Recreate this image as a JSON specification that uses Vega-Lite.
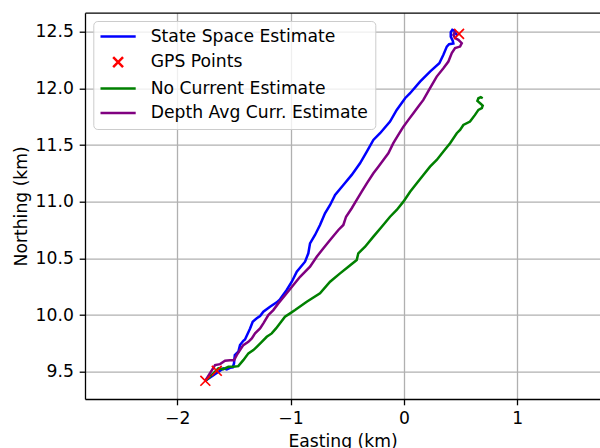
{
  "$schema": "https://vega.github.io/schema/vega-lite/v6.json",
  "width": 515,
  "height": 386.3,
  "autosize": {"type": "none"},
  "padding": {"left": 85, "top": 12.7, "right": 0, "bottom": 49},
  "config": {
    "font": "DejaVu Sans",
    "view": {"stroke": null},
    "axis": {
      "labelFont": "DejaVu Sans", "labelFontSize": 17.2, "labelColor": "black",
      "titleFont": "DejaVu Sans", "titleFontSize": 17.2, "titleFontWeight": "normal", "titleColor": "black",
      "domainColor": "black", "domainWidth": 1.3, "tickColor": "black", "tickWidth": 1.3, "tickSize": 5.8,
      "labelPadding": 5, "gridColor": "#b0b0b0", "gridWidth": 1.3, "titlePadding": 5
    },
    "legend": {
      "fillColor": "rgba(255,255,255,0.8)", "strokeColor": "#cccccc", "cornerRadius": 4, "padding": 7,
      "labelFont": "DejaVu Sans", "labelFontSize": 17.2, "labelColor": "black", "labelLimit": 0,
      "symbolSize": 121, "symbolStrokeWidth": 2.5, "symbolOffset": 9.2, "labelOffset": 24, "rowPadding": 6.5
    }
  },
  "datasets": {
    "lines": [
      {"s":"State Space Estimate","i":1,"x":-1.752,"y":9.420},
      {"s":"State Space Estimate","i":2,"x":-1.593,"y":9.529},
      {"s":"State Space Estimate","i":3,"x":-1.563,"y":9.520},
      {"s":"State Space Estimate","i":4,"x":-1.534,"y":9.534},
      {"s":"State Space Estimate","i":5,"x":-1.510,"y":9.538},
      {"s":"State Space Estimate","i":6,"x":-1.499,"y":9.573},
      {"s":"State Space Estimate","i":7,"x":-1.492,"y":9.647},
      {"s":"State Space Estimate","i":8,"x":-1.461,"y":9.676},
      {"s":"State Space Estimate","i":9,"x":-1.446,"y":9.735},
      {"s":"State Space Estimate","i":10,"x":-1.417,"y":9.773},
      {"s":"State Space Estimate","i":11,"x":-1.402,"y":9.785},
      {"s":"State Space Estimate","i":12,"x":-1.357,"y":9.882},
      {"s":"State Space Estimate","i":13,"x":-1.334,"y":9.941},
      {"s":"State Space Estimate","i":14,"x":-1.298,"y":9.971},
      {"s":"State Space Estimate","i":15,"x":-1.269,"y":9.991},
      {"s":"State Space Estimate","i":16,"x":-1.240,"y":10.029},
      {"s":"State Space Estimate","i":17,"x":-1.181,"y":10.073},
      {"s":"State Space Estimate","i":18,"x":-1.122,"y":10.112},
      {"s":"State Space Estimate","i":19,"x":-1.093,"y":10.139},
      {"s":"State Space Estimate","i":20,"x":-1.034,"y":10.221},
      {"s":"State Space Estimate","i":21,"x":-0.989,"y":10.294},
      {"s":"State Space Estimate","i":22,"x":-0.945,"y":10.383},
      {"s":"State Space Estimate","i":23,"x":-0.872,"y":10.471},
      {"s":"State Space Estimate","i":24,"x":-0.843,"y":10.545},
      {"s":"State Space Estimate","i":25,"x":-0.828,"y":10.633},
      {"s":"State Space Estimate","i":26,"x":-0.784,"y":10.707},
      {"s":"State Space Estimate","i":27,"x":-0.740,"y":10.795},
      {"s":"State Space Estimate","i":28,"x":-0.696,"y":10.898},
      {"s":"State Space Estimate","i":29,"x":-0.651,"y":10.972},
      {"s":"State Space Estimate","i":30,"x":-0.607,"y":11.060},
      {"s":"State Space Estimate","i":31,"x":-0.534,"y":11.148},
      {"s":"State Space Estimate","i":32,"x":-0.460,"y":11.237},
      {"s":"State Space Estimate","i":33,"x":-0.387,"y":11.340},
      {"s":"State Space Estimate","i":34,"x":-0.327,"y":11.443},
      {"s":"State Space Estimate","i":35,"x":-0.269,"y":11.546},
      {"s":"State Space Estimate","i":36,"x":-0.210,"y":11.605},
      {"s":"State Space Estimate","i":37,"x":-0.122,"y":11.708},
      {"s":"State Space Estimate","i":38,"x":-0.063,"y":11.811},
      {"s":"State Space Estimate","i":39,"x":0.011,"y":11.914},
      {"s":"State Space Estimate","i":40,"x":0.055,"y":11.958},
      {"s":"State Space Estimate","i":41,"x":0.143,"y":12.061},
      {"s":"State Space Estimate","i":42,"x":0.231,"y":12.149},
      {"s":"State Space Estimate","i":43,"x":0.313,"y":12.223},
      {"s":"State Space Estimate","i":44,"x":0.349,"y":12.297},
      {"s":"State Space Estimate","i":45,"x":0.379,"y":12.370},
      {"s":"State Space Estimate","i":46,"x":0.399,"y":12.391},
      {"s":"State Space Estimate","i":47,"x":0.437,"y":12.397},
      {"s":"State Space Estimate","i":48,"x":0.432,"y":12.420},
      {"s":"State Space Estimate","i":49,"x":0.414,"y":12.458},
      {"s":"State Space Estimate","i":50,"x":0.414,"y":12.497},
      {"s":"State Space Estimate","i":51,"x":0.428,"y":12.518},
      {"s":"State Space Estimate","i":52,"x":0.446,"y":12.511},
      {"s":"State Space Estimate","i":53,"x":0.455,"y":12.489},
      {"s":"State Space Estimate","i":54,"x":0.472,"y":12.467},
      {"s":"No Current Estimate","i":1,"x":-1.752,"y":9.420},
      {"s":"No Current Estimate","i":2,"x":-1.681,"y":9.485},
      {"s":"No Current Estimate","i":3,"x":-1.637,"y":9.529},
      {"s":"No Current Estimate","i":4,"x":-1.593,"y":9.523},
      {"s":"No Current Estimate","i":5,"x":-1.549,"y":9.543},
      {"s":"No Current Estimate","i":6,"x":-1.505,"y":9.543},
      {"s":"No Current Estimate","i":7,"x":-1.461,"y":9.549},
      {"s":"No Current Estimate","i":8,"x":-1.417,"y":9.602},
      {"s":"No Current Estimate","i":9,"x":-1.372,"y":9.662},
      {"s":"No Current Estimate","i":10,"x":-1.328,"y":9.691},
      {"s":"No Current Estimate","i":11,"x":-1.298,"y":9.720},
      {"s":"No Current Estimate","i":12,"x":-1.254,"y":9.764},
      {"s":"No Current Estimate","i":13,"x":-1.210,"y":9.808},
      {"s":"No Current Estimate","i":14,"x":-1.166,"y":9.838},
      {"s":"No Current Estimate","i":15,"x":-1.128,"y":9.882},
      {"s":"No Current Estimate","i":16,"x":-1.093,"y":9.927},
      {"s":"No Current Estimate","i":17,"x":-1.049,"y":9.985},
      {"s":"No Current Estimate","i":18,"x":-1.004,"y":10.015},
      {"s":"No Current Estimate","i":19,"x":-0.960,"y":10.044},
      {"s":"No Current Estimate","i":20,"x":-0.857,"y":10.117},
      {"s":"No Current Estimate","i":21,"x":-0.740,"y":10.192},
      {"s":"No Current Estimate","i":22,"x":-0.651,"y":10.294},
      {"s":"No Current Estimate","i":23,"x":-0.563,"y":10.368},
      {"s":"No Current Estimate","i":24,"x":-0.490,"y":10.427},
      {"s":"No Current Estimate","i":25,"x":-0.416,"y":10.486},
      {"s":"No Current Estimate","i":26,"x":-0.402,"y":10.545},
      {"s":"No Current Estimate","i":27,"x":-0.342,"y":10.603},
      {"s":"No Current Estimate","i":28,"x":-0.269,"y":10.692},
      {"s":"No Current Estimate","i":29,"x":-0.195,"y":10.780},
      {"s":"No Current Estimate","i":30,"x":-0.122,"y":10.868},
      {"s":"No Current Estimate","i":31,"x":-0.063,"y":10.928},
      {"s":"No Current Estimate","i":32,"x":-0.004,"y":11.001},
      {"s":"No Current Estimate","i":33,"x":0.055,"y":11.089},
      {"s":"No Current Estimate","i":34,"x":0.114,"y":11.163},
      {"s":"No Current Estimate","i":35,"x":0.172,"y":11.237},
      {"s":"No Current Estimate","i":36,"x":0.231,"y":11.310},
      {"s":"No Current Estimate","i":37,"x":0.290,"y":11.369},
      {"s":"No Current Estimate","i":38,"x":0.349,"y":11.443},
      {"s":"No Current Estimate","i":39,"x":0.408,"y":11.517},
      {"s":"No Current Estimate","i":40,"x":0.467,"y":11.605},
      {"s":"No Current Estimate","i":41,"x":0.496,"y":11.634},
      {"s":"No Current Estimate","i":42,"x":0.525,"y":11.678},
      {"s":"No Current Estimate","i":43,"x":0.584,"y":11.708},
      {"s":"No Current Estimate","i":44,"x":0.628,"y":11.767},
      {"s":"No Current Estimate","i":45,"x":0.658,"y":11.811},
      {"s":"No Current Estimate","i":46,"x":0.688,"y":11.826},
      {"s":"No Current Estimate","i":47,"x":0.696,"y":11.849},
      {"s":"No Current Estimate","i":48,"x":0.673,"y":11.870},
      {"s":"No Current Estimate","i":49,"x":0.649,"y":11.890},
      {"s":"No Current Estimate","i":50,"x":0.658,"y":11.914},
      {"s":"No Current Estimate","i":51,"x":0.679,"y":11.923},
      {"s":"No Current Estimate","i":52,"x":0.696,"y":11.914},
      {"s":"Depth Avg Curr. Estimate","i":1,"x":-1.752,"y":9.420},
      {"s":"Depth Avg Curr. Estimate","i":2,"x":-1.666,"y":9.558},
      {"s":"Depth Avg Curr. Estimate","i":3,"x":-1.622,"y":9.567},
      {"s":"Depth Avg Curr. Estimate","i":4,"x":-1.578,"y":9.596},
      {"s":"Depth Avg Curr. Estimate","i":5,"x":-1.534,"y":9.602},
      {"s":"Depth Avg Curr. Estimate","i":6,"x":-1.499,"y":9.602},
      {"s":"Depth Avg Curr. Estimate","i":7,"x":-1.475,"y":9.647},
      {"s":"Depth Avg Curr. Estimate","i":8,"x":-1.446,"y":9.691},
      {"s":"Depth Avg Curr. Estimate","i":9,"x":-1.417,"y":9.735},
      {"s":"Depth Avg Curr. Estimate","i":10,"x":-1.372,"y":9.764},
      {"s":"Depth Avg Curr. Estimate","i":11,"x":-1.342,"y":9.794},
      {"s":"Depth Avg Curr. Estimate","i":12,"x":-1.313,"y":9.838},
      {"s":"Depth Avg Curr. Estimate","i":13,"x":-1.269,"y":9.882},
      {"s":"Depth Avg Curr. Estimate","i":14,"x":-1.240,"y":9.927},
      {"s":"Depth Avg Curr. Estimate","i":15,"x":-1.196,"y":10.000},
      {"s":"Depth Avg Curr. Estimate","i":16,"x":-1.152,"y":10.044},
      {"s":"Depth Avg Curr. Estimate","i":17,"x":-1.108,"y":10.103},
      {"s":"Depth Avg Curr. Estimate","i":18,"x":-1.034,"y":10.192},
      {"s":"Depth Avg Curr. Estimate","i":19,"x":-0.975,"y":10.265},
      {"s":"Depth Avg Curr. Estimate","i":20,"x":-0.916,"y":10.338},
      {"s":"Depth Avg Curr. Estimate","i":21,"x":-0.828,"y":10.427},
      {"s":"Depth Avg Curr. Estimate","i":22,"x":-0.769,"y":10.515},
      {"s":"Depth Avg Curr. Estimate","i":23,"x":-0.710,"y":10.589},
      {"s":"Depth Avg Curr. Estimate","i":24,"x":-0.651,"y":10.663},
      {"s":"Depth Avg Curr. Estimate","i":25,"x":-0.578,"y":10.751},
      {"s":"Depth Avg Curr. Estimate","i":26,"x":-0.534,"y":10.795},
      {"s":"Depth Avg Curr. Estimate","i":27,"x":-0.510,"y":10.868},
      {"s":"Depth Avg Curr. Estimate","i":28,"x":-0.460,"y":10.943},
      {"s":"Depth Avg Curr. Estimate","i":29,"x":-0.416,"y":11.016},
      {"s":"Depth Avg Curr. Estimate","i":30,"x":-0.372,"y":11.089},
      {"s":"Depth Avg Curr. Estimate","i":31,"x":-0.327,"y":11.163},
      {"s":"Depth Avg Curr. Estimate","i":32,"x":-0.269,"y":11.252},
      {"s":"Depth Avg Curr. Estimate","i":33,"x":-0.225,"y":11.310},
      {"s":"Depth Avg Curr. Estimate","i":34,"x":-0.181,"y":11.369},
      {"s":"Depth Avg Curr. Estimate","i":35,"x":-0.137,"y":11.428},
      {"s":"Depth Avg Curr. Estimate","i":36,"x":-0.093,"y":11.517},
      {"s":"Depth Avg Curr. Estimate","i":37,"x":-0.049,"y":11.590},
      {"s":"Depth Avg Curr. Estimate","i":38,"x":-0.004,"y":11.663},
      {"s":"Depth Avg Curr. Estimate","i":39,"x":0.040,"y":11.723},
      {"s":"Depth Avg Curr. Estimate","i":40,"x":0.084,"y":11.782},
      {"s":"Depth Avg Curr. Estimate","i":41,"x":0.128,"y":11.840},
      {"s":"Depth Avg Curr. Estimate","i":42,"x":0.172,"y":11.899},
      {"s":"Depth Avg Curr. Estimate","i":43,"x":0.231,"y":12.003},
      {"s":"Depth Avg Curr. Estimate","i":44,"x":0.290,"y":12.105},
      {"s":"Depth Avg Curr. Estimate","i":45,"x":0.349,"y":12.179},
      {"s":"Depth Avg Curr. Estimate","i":46,"x":0.393,"y":12.238},
      {"s":"Depth Avg Curr. Estimate","i":47,"x":0.423,"y":12.312},
      {"s":"Depth Avg Curr. Estimate","i":48,"x":0.452,"y":12.356},
      {"s":"Depth Avg Curr. Estimate","i":49,"x":0.496,"y":12.370},
      {"s":"Depth Avg Curr. Estimate","i":50,"x":0.511,"y":12.400},
      {"s":"Depth Avg Curr. Estimate","i":51,"x":0.481,"y":12.429},
      {"s":"Depth Avg Curr. Estimate","i":52,"x":0.452,"y":12.444},
      {"s":"Depth Avg Curr. Estimate","i":53,"x":0.437,"y":12.473},
      {"s":"Depth Avg Curr. Estimate","i":54,"x":0.452,"y":12.503}
    ],
    "gps": [
      {"s":"GPS Points","x":-1.752,"y":9.420},
      {"s":"GPS Points","x":-1.651,"y":9.508},
      {"s":"GPS Points","x":0.487,"y":12.482}
    ]
  },
  "layer": [
    {
      "data": {"name": "lines"},
      "mark": {"type": "line", "strokeWidth": 2.5},
      "encoding": {
        "x": {"field": "x", "type": "quantitative",
              "scale": {"domain": [-2.814, 1.731], "nice": false, "zero": false},
              "axis": {"values": [-2, -1, 0, 1], "format": "d", "title": "Easting (km)"}},
        "y": {"field": "y", "type": "quantitative",
              "scale": {"domain": [9.259, 12.669], "nice": false, "zero": false},
              "axis": {"values": [9.5, 10, 10.5, 11, 11.5, 12, 12.5], "format": ".1f", "title": "Northing (km)", "labelPadding": 5.8}},
        "color": {"field": "s", "type": "nominal",
                  "scale": {"domain": ["State Space Estimate", "GPS Points", "No Current Estimate", "Depth Avg Curr. Estimate"],
                            "range": ["#0000ff", "#ff0000", "#008000", "#800080"]},
                  "legend": {"title": null, "orient": "none", "legendX": 8.3, "legendY": 8.3}},
        "order": {"field": "i", "type": "quantitative"}
      }
    },
    {
      "data": {"name": "gps"},
      "mark": {"type": "point", "filled": false, "strokeWidth": 1.65, "size": 121, "opacity": 1},
      "encoding": {
        "x": {"field": "x", "type": "quantitative",
              "axis": {"orient": "top", "labels": false, "ticks": false, "grid": false, "title": null}},
        "y": {"field": "y", "type": "quantitative"},
        "color": {"field": "s", "type": "nominal",
                  "legend": {"title": null, "orient": "none", "legendX": 8.3, "legendY": 8.3}},
        "shape": {"field": "s", "type": "nominal",
                  "scale": {"domain": ["State Space Estimate", "GPS Points", "No Current Estimate", "Depth Avg Curr. Estimate"],
                            "range": ["M-3.2,0L3.2,0", "M-0.9,-0.9L0.9,0.9M-0.9,0.9L0.9,-0.9", "M-3.2,0L3.2,0", "M-3.2,0L3.2,0"]},
                  "legend": {"title": null, "orient": "none", "legendX": 8.3, "legendY": 8.3}}
      }
    }
  ],
  "resolve": {"axis": {"x": "independent"}}
}
